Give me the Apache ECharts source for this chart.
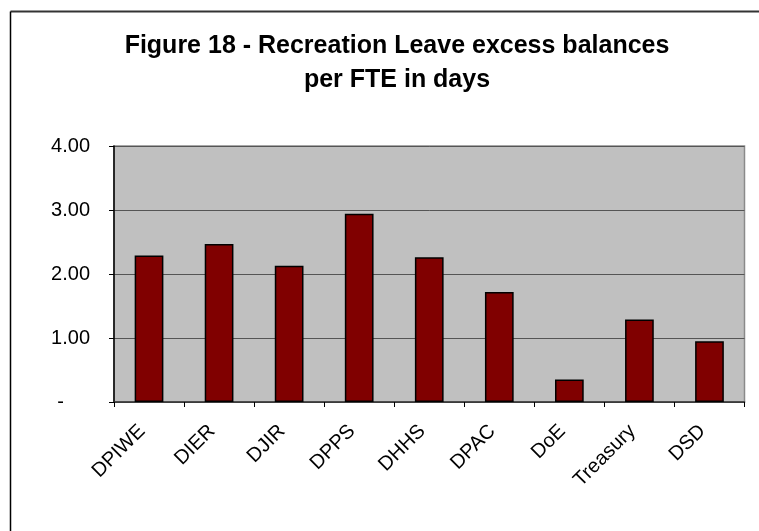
<!DOCTYPE html>
<html>
<head>
<meta charset="utf-8">
<script src="https://cdn.jsdelivr.net/npm/echarts@6/dist/echarts.min.js"></script>
<style>
  html, body { margin: 0; padding: 0; background: #fff; }
  #chart { width: 759px; height: 531px; }
</style>
</head>
<body>
<div id="chart"></div>
<script>
// Recreation leave excess balances per FTE (days), by agency
const agencies = ['DPIWE', 'DIER', 'DJIR', 'DPPS', 'DHHS', 'DPAC', 'DoE', 'Treasury', 'DSD'];
const excessDays = [2.29, 2.47, 2.13, 2.94, 2.26, 1.72, 0.35, 1.29, 0.95];
const yTicks = [0, 1, 2, 3, 4];

const FONT = 'Liberation Sans, Arial, sans-serif';
const chart = echarts.init(document.getElementById('chart'));

chart.setOption({
  animation: false,
  backgroundColor: '#ffffff',
  title: {
    text: 'Figure 18 - Recreation Leave excess balances\nper FTE in days',
    left: 392,
    top: 24,
    textAlign: 'center',
    textStyle: {
      fontFamily: FONT,
      fontWeight: 'bold',
      fontSize: 25,
      lineHeight: 34,
      color: '#000'
    }
  },
  graphic: [
    // outer chart frame (top and left edges)
    { type: 'line', shape: { x1: 10.5, y1: 11.5, x2: 759, y2: 11.5 }, style: { stroke: '#333', lineWidth: 2 } },
    { type: 'line', shape: { x1: 10.5, y1: 11.5, x2: 10.5, y2: 531 }, style: { stroke: '#000', lineWidth: 1.5 } }
  ],
  grid: {
    left: 114,
    right: 14.5,
    top: 146,
    bottom: 129,
    show: true,
    backgroundColor: '#c0c0c0',
    borderColor: '#8a8a8a',
    borderWidth: 1.5
  },
  xAxis: {
    type: 'category',
    data: agencies,
    axisLine: { lineStyle: { color: '#333', width: 1.5 } },
    axisTick: { show: true, length: 5, lineStyle: { color: '#000' } },
    axisLabel: {
      rotate: 45,
      margin: 19,
      formatter: name => '{c|' + name + '}',
      rich: {
        c: { fontFamily: FONT, fontSize: 20, color: '#000', padding: [0, 10, 0, 0] }
      }
    }
  },
  yAxis: {
    type: 'value',
    min: yTicks[0],
    max: yTicks[yTicks.length - 1],
    interval: 1,
    axisLine: { show: true, lineStyle: { color: '#000', width: 1.5 } },
    axisTick: { show: true, length: 5, lineStyle: { color: '#000' } },
    splitLine: { show: true, lineStyle: { color: '#555', width: 1 } },
    axisLabel: {
      fontFamily: FONT,
      fontSize: 20,
      color: '#000',
      margin: 24,
      formatter: v => (v === 0 ? '{z|-}' : v.toFixed(2)),
      rich: {
        z: { fontFamily: FONT, fontSize: 20, color: '#000', padding: [0, 26, 0, 0] }
      }
    }
  },
  series: [{
    type: 'bar',
    data: excessDays,
    barWidth: '41%',
    itemStyle: { color: '#800000', borderColor: '#000', borderWidth: 1.5 }
  }]
});
</script>
</body>
</html>
